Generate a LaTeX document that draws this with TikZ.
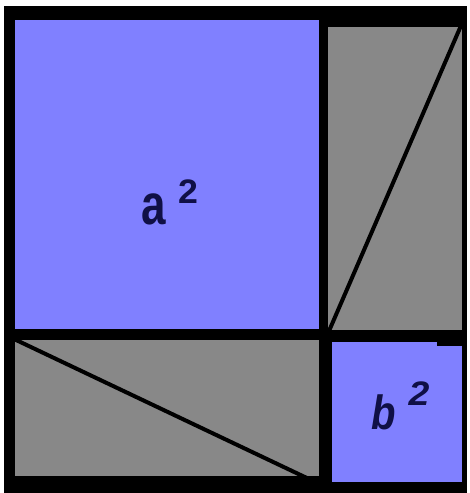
\documentclass[tikz,border=0pt]{standalone}
\usepackage{fontspec}
\setmainfont{Liberation Sans}
\definecolor{sqblue}{RGB}{128,128,255}
\definecolor{sqgray}{RGB}{136,136,136}
\definecolor{ink}{RGB}{16,16,70}
\tikzset{
  px/.style={x=1pt,y=-1pt},
  bluefill/.style={fill=sqblue},
  grayfill/.style={fill=sqgray},
  diag/.style={draw=black,line width=4pt},
  lbl/.style={text=ink,inner sep=0pt,font=\bfseries}
}
\begin{document}
\begin{tikzpicture}[px]
\useasboundingbox (0,0) rectangle (469,493);
\fill[white] (0,0) rectangle (469,493);
\fill[black] (4,6) rectangle (467,493);
\fill[bluefill] (15,20) rectangle (319,329);
\fill[grayfill] (328,27) rectangle (462,330);
\fill[grayfill] (15,340) rectangle (319,476);
\fill[bluefill] (332,342) rectangle (462,482);
\fill[black] (437,330) rectangle (462,346);
\coordinate (t1) at (329,331);
\coordinate (t2) at (463,21);
\coordinate (b1) at (14,339);
\coordinate (b2) at (309,479);
\draw[diag] (t1) -- (t2);
\draw[diag] (b1) -- (b2);
\node[lbl] (a) at (154,209) {\fontsize{44}{44}\selectfont\scalebox{1}[1.3]{a}};
\node[lbl] (a2) at (188,192) {\fontsize{34}{34}\selectfont\scalebox{1.05}[1]{2}};
\node[lbl] (b) at (384,412) {\fontsize{40}{40}\selectfont\itshape\scalebox{1}[1.2]{b}};
\node[lbl] (b2l) at (419,394) {\fontsize{34}{34}\selectfont\itshape\scalebox{1.1}[1]{2}};
\end{tikzpicture}
\end{document}
